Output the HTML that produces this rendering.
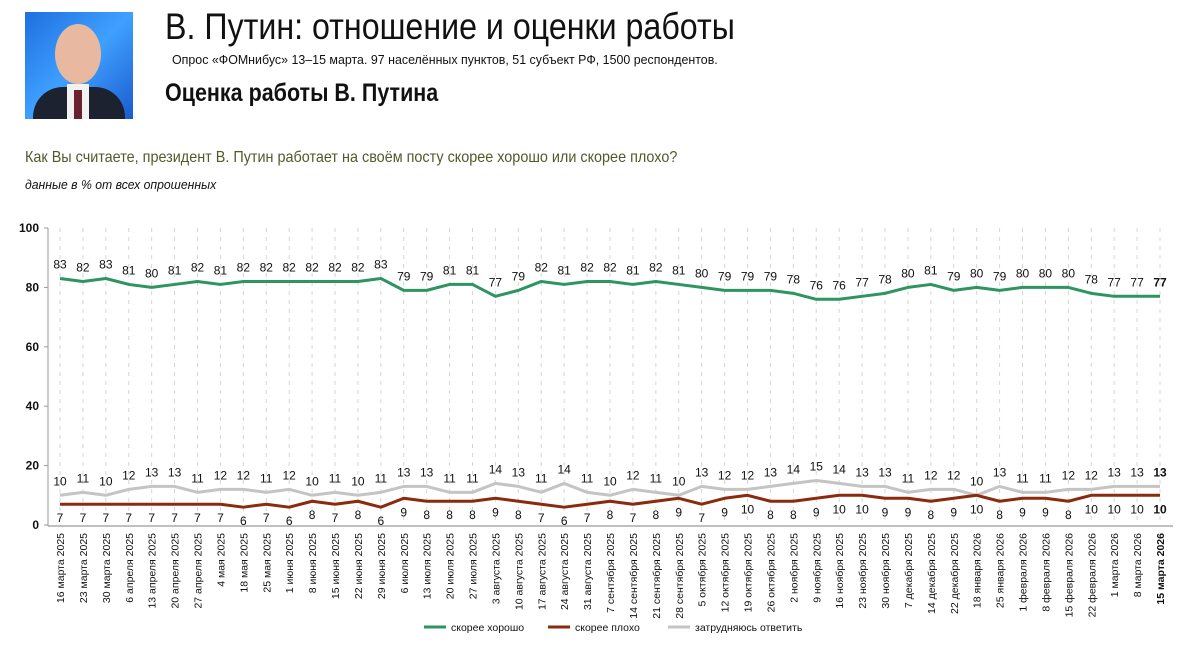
<!DOCTYPE html>
<html><head><meta charset="utf-8"><style>
body{margin:0;background:#fff;width:1200px;height:657px;overflow:hidden;font-family:"Liberation Sans Narrow","Liberation Sans",sans-serif;}
.t{position:absolute;white-space:nowrap;color:#111;transform-origin:0 0}
</style></head><body>
<div style="position:absolute;left:25px;top:12px;width:108px;height:107px;background:linear-gradient(135deg,#1e6fe0,#3fa0ff 50%,#1a5bd0);overflow:hidden">
 <div style="position:absolute;left:30px;top:12px;width:46px;height:60px;border-radius:50%;background:#e8b9a0"></div>
 <div style="position:absolute;left:8px;top:75px;width:92px;height:40px;border-radius:30px 30px 0 0;background:#1d2230"></div>
 <div style="position:absolute;left:42px;top:72px;width:22px;height:35px;background:#f2f2f2"></div>
 <div style="position:absolute;left:49px;top:78px;width:8px;height:29px;background:#6a2230"></div>
</div>
<div class="t" style="left:165px;top:6px;font-size:37px;transform:scaleX(0.87)">В. Путин: отношение и оценки работы</div>
<div class="t" style="left:172px;top:52px;font-size:13px;transform:scaleX(0.955)">Опрос «ФОМнибус» 13–15 марта. 97 населённых пунктов, 51 субъект РФ, 1500 респондентов.</div>
<div class="t" style="left:165px;top:79px;font-size:25px;font-weight:bold;transform:scaleX(0.86)">Оценка работы В. Путина</div>
<div class="t" style="left:25px;top:149px;font-size:16px;color:#4f5b2a;transform:scaleX(0.9)">Как Вы считаете, президент В. Путин работает на своём посту скорее хорошо или скорее плохо?</div>
<div class="t" style="left:25px;top:177px;font-size:13px;font-style:italic;transform:scaleX(0.94)">данные в % от всех опрошенных</div>
<svg id="chart" width="1200" height="657" style="position:absolute;left:0;top:0"></svg>
<script>
const categories=["16 марта 2025","23 марта 2025","30 марта 2025","6 апреля 2025","13 апреля 2025","20 апреля 2025","27 апреля 2025","4 мая 2025","18 мая 2025","25 мая 2025","1 июня 2025","8 июня 2025","15 июня 2025","22 июня 2025","29 июня 2025","6 июля 2025","13 июля 2025","20 июля 2025","27 июля 2025","3 августа 2025","10 августа 2025","17 августа 2025","24 августа 2025","31 августа 2025","7 сентября 2025","14 сентября 2025","21 сентября 2025","28 сентября 2025","5 октября 2025","12 октября 2025","19 октября 2025","26 октября 2025","2 ноября 2025","9 ноября 2025","16 ноября 2025","23 ноября 2025","30 ноября 2025","7 декабря 2025","14 декабря 2025","22 декабря 2025","18 января 2026","25 января 2026","1 февраля 2026","8 февраля 2026","15 февраля 2026","22 февраля 2026","1 марта 2026","8 марта 2026","15 марта 2026"];
const good=[83,82,83,81,80,81,82,81,82,82,82,82,82,82,83,79,79,81,81,77,79,82,81,82,82,81,82,81,80,79,79,79,78,76,76,77,78,80,81,79,80,79,80,80,80,78,77,77,77];
const bad=[7,7,7,7,7,7,7,7,6,7,6,8,7,8,6,9,8,8,8,9,8,7,6,7,8,7,8,9,7,9,10,8,8,9,10,10,9,9,8,9,10,8,9,9,8,10,10,10,10];
const unsure=[10,11,10,12,13,13,11,12,12,11,12,10,11,10,11,13,13,11,11,14,13,11,14,11,10,12,11,10,13,12,12,13,14,15,14,13,13,11,12,12,10,13,11,11,12,12,13,13,13];
const yTicks=[0,20,40,60,80,100];
const NS="http://www.w3.org/2000/svg",svg=document.getElementById('chart');
const x=i=>60+i*(1160-60)/(categories.length-1);
const y=v=>525-v*2.97;
function mk(t,a,p){const e=document.createElementNS(NS,t);for(const k in a)e.setAttribute(k,a[k]);(p||svg).appendChild(e);return e;}
categories.forEach((c,i)=>{
 const g=mk('line',{x1:x(i),x2:x(i),y1:228,y2:525,stroke:'#d6d6d6','stroke-dasharray':'4,5'});
 
 
 const t=mk('text',{x:0,y:0,transform:`translate(${x(i)+4},533) rotate(-90)`,'text-anchor':'end','font-size':'10.5','font-weight':i==categories.length-1?'bold':'normal',fill:'#111'});
 t.textContent=c;
 
 
});
const ya=mk('line',{x1:48,x2:48,y1:228,y2:526,stroke:'#999'});


const xa=mk('line',{x1:48,x2:1173,y1:526,y2:526,stroke:'#aaa','stroke-width':1.5});


yTicks.forEach(v=>{
 const t=mk('text',{x:39,y:y(v)+4,'text-anchor':'end','font-size':'12','font-weight':'bold',fill:'#111'});
 t.textContent=v;
 
 
 const tk=mk('line',{x1:44,x2:48,y1:y(v),y2:y(v),stroke:'#999'});
 
 
});
function series(vals,color,name,labelDy){
 const p=mk('polyline',{points:vals.map((v,i)=>x(i)+','+y(v)).join(' '),fill:'none',stroke:color,'stroke-width':3,'stroke-linejoin':'round'});
 
 
 vals.forEach((v,i)=>{
  const t=mk('text',{x:x(i),y:y(v)+labelDy,'text-anchor':'middle','font-size':'12','font-weight':i==vals.length-1?'bold':'normal',fill:'#111'});
  t.textContent=v;
  
  
 });
}
series(unsure,'#c4c4c4','unsure',-10);
series(bad,'#8a2a0e','bad',18);
series(good,'#2e9460','good',-10);
[['#2e9460','скорее хорошо',424,'legend-good'],['#8a2a0e','скорее плохо',548,'legend-bad'],['#c4c4c4','затрудняюсь ответить',668,'legend-unsure']].forEach(l=>{
 const g=mk('g',{});
 
 
 mk('line',{x1:l[2],x2:l[2]+22,y1:627,y2:627,stroke:l[0],'stroke-width':3},g);
 const t=mk('text',{x:l[2]+27,y:631,'font-size':'10.5',fill:'#111'},g);
 t.textContent=l[1];
});
</script>
</body></html>
